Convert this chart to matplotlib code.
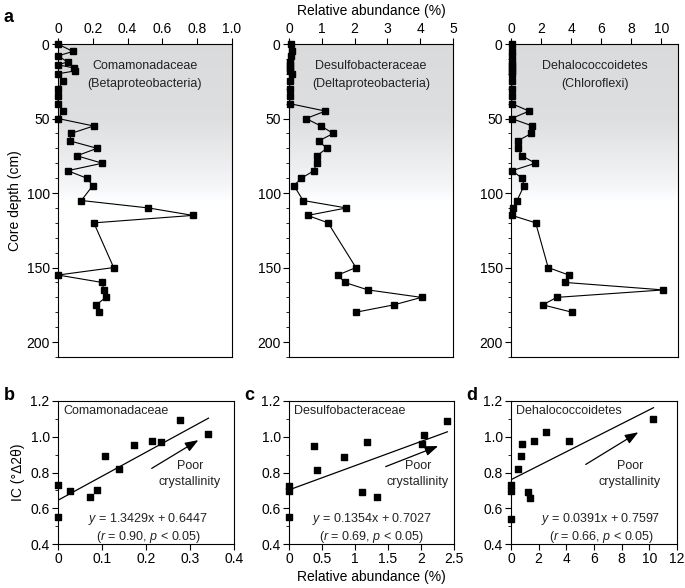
import numpy as np
import matplotlib.pyplot as plt
from matplotlib.ticker import MultipleLocator, FuncFormatter

plt.rcParams['font.family'] = ['Liberation Sans', 'DejaVu Sans']
plt.rcParams['mathtext.fontset'] = 'custom'
plt.rcParams['mathtext.rm'] = 'Liberation Sans'
plt.rcParams['mathtext.it'] = 'Liberation Sans:italic'

# ---- depth profiles (panel a) ----
depth = [0, 5, 8, 12, 14, 16, 18, 20, 25, 30, 35, 40, 45, 50, 55, 60, 65, 70, 75,
         80, 85, 90, 95, 105, 110, 115, 120, 150, 155, 160, 165, 170, 175, 180]
comamonad = [0, 0.085, 0, 0.055, 0, 0.09, 0.1, 0, 0.03, 0, 0, 0, 0.03, 0, 0.205,
             0.075, 0.068, 0.225, 0.108, 0.255, 0.055, 0.165, 0.2, 0.134, 0.52,
             0.775, 0.206, 0.32, 0, 0.254, 0.263, 0.275, 0.22, 0.236]
desulfo = [0.05, 0.08, 0.05, 0.03, 0.03, 0.03, 0.03, 0.1, 0.02, 0.02, 0.02, 0.02,
           1.11, 0.52, 0.97, 1.35, 0.91, 1.15, 0.85, 0.84, 0.76, 0.38, 0.15, 0.43,
           1.75, 0.57, 1.19, 2.04, 1.49, 1.70, 2.41, 4.04, 3.2, 2.03]
dehalo = [0.05, 0.08, 0.05, 0.05, 0.05, 0.05, 0.05, 0.08, 0.05, 0.05, 0.05, 0.05,
          1.2, 0.04, 1.42, 1.36, 0.44, 0.44, 0.73, 1.62, 0.07, 0.73, 0.87, 0.4,
          0.11, 0.07, 1.64, 2.47, 3.84, 3.62, 10.13, 3.04, 2.11, 4.07]

top_names = ["Comamonadaceae\n(Betaproteobacteria)",
             "Desulfobacteraceae\n(Deltaproteobacteria)",
             "Dehalococcoidetes\n(Chloroflexi)"]
top_xmax = [1.0, 5.0, 11.1]
top_xstep = [0.2, 1, 2]

# ---- IC vs abundance (panels b-d) ----
ab_comamonad = [0, 0, 0.027, 0.073, 0.089, 0.107, 0.138, 0.173, 0.214, 0.234, 0.278, 0.342]
ic_comamonad = [0.731, 0.549, 0.695, 0.664, 0.703, 0.890, 0.818, 0.955, 0.974, 0.968, 1.092, 1.016]
ab_desulfo = [0, 0, 0, 0.379, 0.424, 0.838, 1.106, 1.187, 1.328, 2.01, 2.045, 2.40]
ic_desulfo = [0.725, 0.697, 0.549, 0.948, 0.812, 0.886, 0.690, 0.970, 0.664, 0.961, 1.011, 1.087]
ab_dehalo = [0, 0, 0, 0.47, 0.74, 0.77, 1.26, 1.38, 1.68, 2.52, 4.17, 10.3]
ic_dehalo = [0.731, 0.697, 0.540, 0.820, 0.890, 0.962, 0.690, 0.660, 0.979, 1.026, 0.976, 1.100]

bot_names = ["Comamonadaceae", "Desulfobacteraceae", "Dehalococcoidetes"]
slopes = [1.3429, 0.1354, 0.0391]
intercepts = [0.6447, 0.7027, 0.7597]
r_vals = ["0.90", "0.69", "0.66"]
fit_xmax = [0.342, 2.4, 10.3]
bot_xmax = [0.4, 2.5, 12]
bot_xstep = [0.1, 0.5, 2]

W, H = 685, 588
fig = plt.figure(figsize=(W / 100, H / 100), dpi=100)


def frac(x0, x1, ytop, ybot):
    return [x0 / W, 1 - ybot / H, (x1 - x0) / W, (ybot - ytop) / H]


top_pos = [frac(58, 232, 44, 357), frac(289, 453, 44, 357), frac(511, 678, 44, 357)]
bot_pos = [frac(58, 234, 401, 544), frac(289, 454, 401, 544), frac(511, 677, 401, 544)]


def clean_int(v, pos):
    if abs(v - round(v)) < 1e-9:
        return str(int(round(v)))
    return f"{v:g}"


def one_dec(v, pos):
    return "0" if abs(v) < 1e-9 else f"{v:.1f}"


tick_fs = 10
mk = dict(marker='s', ms=4.3, color='black', mfc='black', lw=0.8)

# gradient background: gray at top fading to white below ~100 cm
zz = np.linspace(0, 210, 400)
shade = np.interp(zz, [0, 50, 95, 106, 210], [0.855, 0.87, 0.96, 1.0, 1.0])[:, None]
grad = np.clip(np.dstack([shade, shade * 1.003, shade * 1.008]), 0, 1)

top_series = [comamonad, desulfo, dehalo]
for i, (vals, name) in enumerate(zip(top_series, top_names)):
    ax = fig.add_axes(top_pos[i])
    ax.imshow(grad, aspect='auto', extent=[0, top_xmax[i], 210, 0], origin='upper', zorder=0)
    ax.plot(vals, depth, clip_on=False, zorder=3, **mk)
    ax.set_xlim(0, top_xmax[i])
    ax.set_ylim(210, 0)
    ax.xaxis.tick_top()
    ax.xaxis.set_major_locator(MultipleLocator(top_xstep[i]))
    ax.xaxis.set_major_formatter(FuncFormatter(one_dec if i == 0 else clean_int))
    ax.yaxis.set_major_locator(MultipleLocator(50))
    ax.yaxis.set_minor_locator(MultipleLocator(10))
    ax.tick_params(axis='both', which='major', direction='out', length=4, width=0.8,
                   labelsize=tick_fs, pad=2)
    ax.tick_params(axis='y', which='minor', direction='out', length=2, width=0.6)
    for sp in ax.spines.values():
        sp.set_linewidth(0.8)
    ax.text(0.5, 0.95, name, transform=ax.transAxes, ha='center', va='top',
            fontsize=9, color='#222222', linespacing=1.75)
    if i == 0:
        ax.set_ylabel("Core depth (cm)", fontsize=10, labelpad=3)
    if i == 1:
        ax.set_xlabel("Relative abundance (%)", fontsize=10, labelpad=5)
        ax.xaxis.set_label_position('top')

bot_x = [ab_comamonad, ab_desulfo, ab_dehalo]
bot_y = [ic_comamonad, ic_desulfo, ic_dehalo]
# arrow tail/head and text anchors in data units of each panel
arrow_xy = [((0.213, 0.823), (0.319, 0.981)),
            ((1.465, 0.833), (2.26, 0.948)),
            ((5.4, 0.845), (9.2, 1.025))]
poor_xy = [(0.30, 0.79), (1.95, 0.79), (8.6, 0.79)]
eq_xy = [(0.205, 0.49), (1.25, 0.49), (6.5, 0.49)]

for i in range(3):
    ax = fig.add_axes(bot_pos[i])
    ax.scatter(bot_x[i], bot_y[i], marker='s', s=22, color='black', zorder=3, clip_on=False)
    xf = np.array([0, fit_xmax[i]])
    ax.plot(xf, slopes[i] * xf + intercepts[i], color='black', lw=0.9)
    ax.set_xlim(0, bot_xmax[i])
    ax.set_ylim(0.4, 1.2)
    ax.xaxis.set_major_locator(MultipleLocator(bot_xstep[i]))
    ax.xaxis.set_major_formatter(FuncFormatter(one_dec if i == 0 else clean_int))
    ax.yaxis.set_major_locator(MultipleLocator(0.2))
    ax.yaxis.set_minor_locator(MultipleLocator(0.1))
    ax.yaxis.set_major_formatter(FuncFormatter(lambda v, p: f"{v:.1f}"))
    ax.tick_params(axis='both', which='major', direction='out', length=4, width=0.8,
                   labelsize=tick_fs, pad=2)
    ax.tick_params(axis='y', which='minor', direction='out', length=2, width=0.6)
    for sp in ax.spines.values():
        sp.set_linewidth(0.8)
    ax.text(0.03, 0.93, bot_names[i], transform=ax.transAxes, ha='left', va='center',
            fontsize=9, color='#222222')
    (x0, y0), (x1, y1) = arrow_xy[i]
    ax.annotate("", xy=(x1, y1), xytext=(x0, y0),
                arrowprops=dict(arrowstyle='-|>,head_length=0.8,head_width=0.3',
                                color='black', lw=0.9, shrinkA=0, shrinkB=0))
    ax.text(poor_xy[i][0], poor_xy[i][1], "Poor\ncrystallinity", ha='center', va='center',
            fontsize=9, color='#222222', linespacing=1.4)
    ax.text(eq_xy[i][0], eq_xy[i][1],
            rf"$\it{{y}}$ = {slopes[i]:.4f}x + {intercepts[i]:.4f}" + "\n"
            + rf"($\it{{r}}$ = {r_vals[i]}, $\it{{p}}$ < 0.05)",
            ha='center', va='center', fontsize=9, color='#222222', linespacing=1.25)
    if i == 0:
        ax.set_ylabel("IC (°Δ2θ)", fontsize=10, labelpad=4)
    if i == 1:
        ax.set_xlabel("Relative abundance (%)", fontsize=10, labelpad=3)

# panel letters
for letter, (px, py) in zip("abcd", [(4, 18), (4, 396), (244, 396), (466, 396)]):
    fig.text(px / W, 1 - py / H, letter, fontsize=13, fontweight='bold', va='center', ha='left')

fig.savefig("out.png", dpi=100)
